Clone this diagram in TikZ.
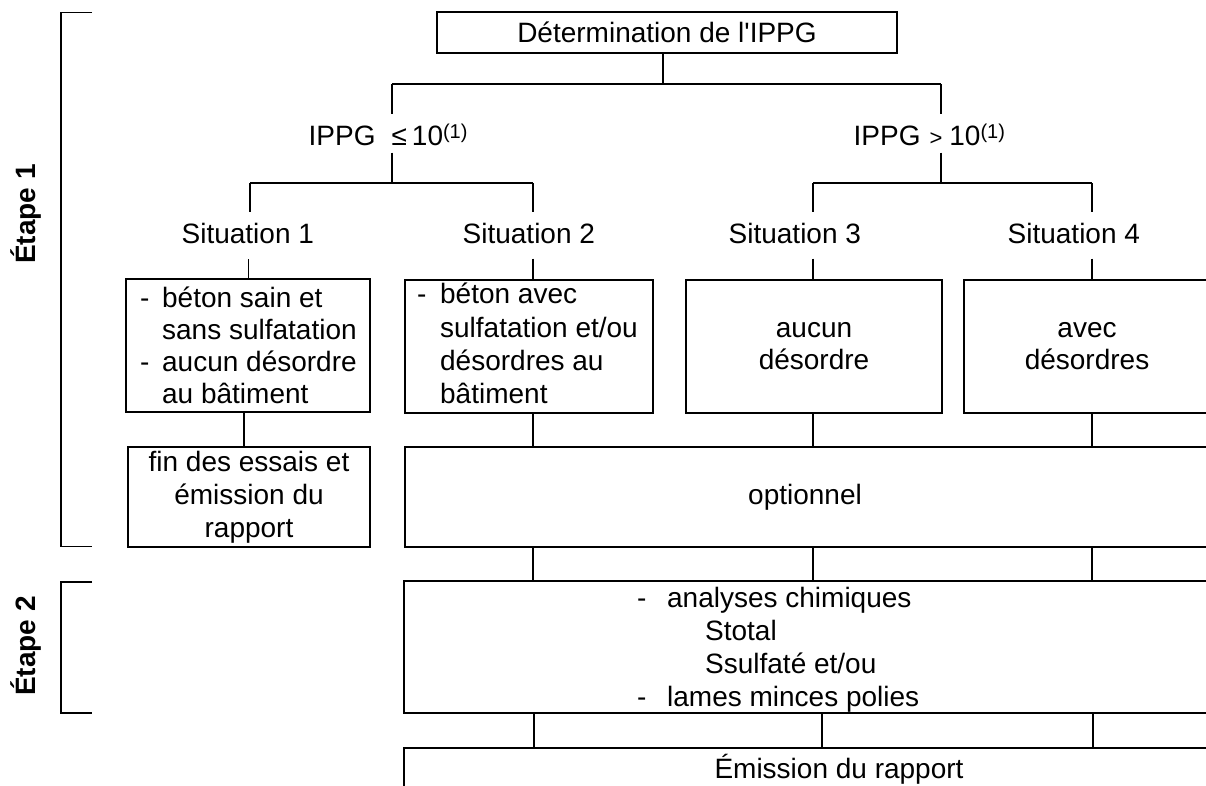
\documentclass[tikz,border=0pt]{standalone}
\usepackage{fontspec}
\setmainfont{Liberation Sans}[Ligatures=TeXOff]
\newcommand\fsz{\fontsize{28}{32.5}\selectfont}
\begin{document}
\begin{tikzpicture}[x=1pt,y=-1pt,
  line width=1.3pt,
  box/.style={draw, line width=1.3pt, inner sep=0pt, align=center, font=\fsz},
  txt/.style={inner sep=0pt, align=left, anchor=west},
  ctxt/.style={inner sep=0pt, align=center},
  lbl/.style={inner sep=0pt, anchor=west, minimum height=37pt, text height=23pt, text depth=0pt, font=\fsz},
  sit/.style={inner sep=0pt, anchor=west, minimum height=45pt, text height=15pt, text depth=0pt, font=\fsz},
  etape/.style={rotate=90, inner sep=0pt, font=\bfseries\fontsize{28}{28}\selectfont},
  thinconn/.style={line width=0.8pt}
]
\useasboundingbox (0,0) rectangle (1206,785);

% stage brackets
\draw (92,12.5) -- (61,12.5) -- (61,546.5) -- (92,546.5);
\draw (92,582) -- (61,582) -- (61,713) -- (92,713);
\node[etape] (e1) at (26,214) {Étape 1};
\node[etape] (e2) at (26,646) {Étape 2};

% top
\node[box, minimum width=460pt, minimum height=41pt] (top) at (667,32.5) {Détermination de l'IPPG};

\coordinate (j0) at (663,84);
\coordinate (hL) at (392,84);
\coordinate (hR) at (941,84);
\coordinate (mL) at (392,183);
\coordinate (mR) at (941,183);
\coordinate (a1) at (250,183);
\coordinate (a2) at (533,183);
\coordinate (a3) at (813,183);
\coordinate (a4) at (1092,183);

\draw (j0 |- top.south) -- (j0);
\draw (hL) -- (hR);

\node[lbl] (c1) at (308,133.5) {IPPG\hspace{16pt}≤\hspace{5pt}10\raisebox{7pt}{\fontsize{20}{20}\selectfont(1)}};
\node[lbl] (c2) at (853,133.5) {IPPG\hspace{9pt}{\fontsize{22}{22}\selectfont >}\hspace{7pt}10\raisebox{7pt}{\fontsize{20}{20}\selectfont(1)}};

\draw (hL) -- (hL |- c1.north);
\draw (hL |- c1.south) -- (mL);
\draw (hR) -- (hR |- c2.north);
\draw (hR |- c2.south) -- (mR);
\draw (a1) -- (a2);
\draw (a3) -- (a4);

% situations
\node[sit] (s1) at (181,235.5) {Situation 1};
\node[sit] (s2) at (462,235.5) {Situation 2};
\node[sit] (s3) at (728,235.5) {Situation 3};
\node[sit] (s4) at (1007,235.5) {Situation 4};
\draw (a1) -- (a1 |- s1.north);
\draw (a2) -- (a2 |- s2.north);
\draw (a3) -- (a3 |- s3.north);
\draw (a4) -- (a4 |- s4.north);

% situation boxes
\node[box, minimum width=244pt, minimum height=133pt] (b1) at (248,345.5) {};
\node[txt, font=\fontsize{28}{32}\selectfont] (t1) at (139.5,345.5) {\makebox[22pt][l]{-}béton sain et\\\hspace*{22pt}sans sulfatation\\\makebox[22pt][l]{-}aucun désordre\\\hspace*{22pt}au bâtiment};

\node[box, minimum width=248pt, minimum height=133pt] (b2) at (529,346.5) {};
\node[txt, font=\fontsize{28}{33.3}\selectfont] (t2) at (416.5,343.5) {\makebox[23pt][l]{-}béton avec\\\hspace*{23pt}sulfatation et/ou\\\hspace*{23pt}désordres au\\\hspace*{23pt}bâtiment};

\node[box, minimum width=256pt, minimum height=133pt, font=\fontsize{28}{32}\selectfont] (b3) at (814,346.5) {aucun\\désordre};
\node[box, minimum width=266pt, minimum height=133pt] (b4) at (1097,346.5) {};
\node[ctxt, font=\fontsize{28}{32}\selectfont] (t4) at (1087,346.5) {avec\\désordres};

\draw[thinconn] (b1.north) -- (b1.north |- s1.south);
\draw (a2 |- s2.south) -- (a2 |- b2.north);
\draw (a3 |- s3.south) -- (a3 |- b3.north);
\draw (a4 |- s4.south) -- (a4 |- b4.north);

% second row
\node[box, minimum width=242pt, minimum height=100pt, font=\fontsize{28}{33}\selectfont] (f1) at (249,497) {fin des essais et\\émission du\\rapport};
\node[box, minimum width=825pt, minimum height=100pt] (opt) at (817.5,497) {};
\node[ctxt, font=\fsz] (to) at (805,497) {optionnel};

\coordinate (k1) at (244,430);
\draw (k1 |- b1.south) -- (k1 |- f1.north);
\draw (a2 |- b2.south) -- (a2 |- opt.north);
\draw (a3 |- b3.south) -- (a3 |- opt.north);
\draw (a4 |- b4.south) -- (a4 |- opt.north);

% stage 2
\node[box, minimum width=826pt, minimum height=132pt] (ana) at (817,647) {};
\node[txt, font=\fontsize{28}{33}\selectfont] (ta) at (636.5,649.3) {\makebox[30pt][l]{-}analyses chimiques\\\hspace*{68pt}Stotal\\\hspace*{68pt}Ssulfaté et/ou\\\makebox[30pt][l]{-}lames minces polies};

\draw (a2 |- opt.south) -- (a2 |- ana.north);
\draw (a3 |- opt.south) -- (a3 |- ana.north);
\draw (a4 |- opt.south) -- (a4 |- ana.north);

% final
\node[box, minimum width=826pt, minimum height=60pt] (em) at (817,778) {};
\node[inner sep=0pt, anchor=base, font=\fsz] (te) at (839,778) {Émission du rapport};

\coordinate (d2) at (534,730);
\coordinate (d3) at (822,730);
\coordinate (d4) at (1093,730);
\draw (d2 |- ana.south) -- (d2 |- em.north);
\draw (d3 |- ana.south) -- (d3 |- em.north);
\draw (d4 |- ana.south) -- (d4 |- em.north);
\end{tikzpicture}
\end{document}
